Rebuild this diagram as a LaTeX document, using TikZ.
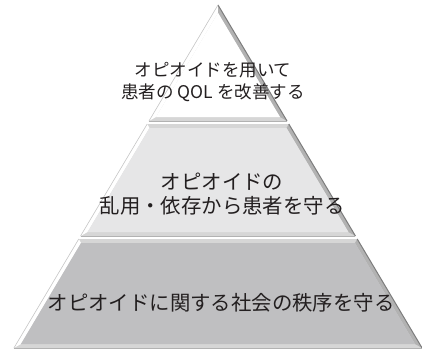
\documentclass[tikz,border=0pt]{standalone}
\usepackage{fontspec}
\newfontfamily\jp{Noto Sans CJK JP}
\definecolor{lowfill}{RGB}{191,191,193}
\definecolor{midfill}{RGB}{230,230,231}
\definecolor{topfill}{RGB}{255,255,255}
\definecolor{bevelgray}{RGB}{214,214,214}
\definecolor{rightbevel}{RGB}{178,178,178}
\definecolor{edgedark}{RGB}{125,125,125}
\definecolor{leftshade}{RGB}{200,200,200}
\definecolor{txt}{RGB}{35,31,32}
\newcommand{\pyrlayer}[4]{%
  \pgfmathsetmacro\oa{218-0.595*(#1-5)}%
  \pgfmathsetmacro\ob{218+0.595*(#1-5)}%
  \pgfmathsetmacro\oc{218+0.595*(#2-5)}%
  \pgfmathsetmacro\od{218-0.595*(#2-5)}%
  \pgfmathsetmacro\iyb{#2-4}%
  \pgfmathsetmacro\ia{min(218-0.595*(#3-5)+4.65,218)}%
  \pgfmathsetmacro\ib{max(218+0.595*(#3-5)-4.65,218)}%
  \pgfmathsetmacro\ic{218+0.595*(#2-9)-4.65}%
  \pgfmathsetmacro\id{218-0.595*(#2-9)+4.65}%
  \fill[bevelgray] (\oa,#1) -- (\ob,#1) -- (\oc,#2) -- (\od,#2) -- cycle;
  \fill[white] (\oa,#1) -- (\od,#2) -- (\id,\iyb) -- (\ia,#3) -- cycle;
  \fill[rightbevel] (\ob,#1) -- (\oc,#2) -- (\ic,\iyb) -- (\ib,#3) -- cycle;
  \fill[#4] (\ia,#3) -- (\ib,#3) -- (\ic,\iyb) -- (\id,\iyb) -- cycle;
  \draw[edgedark, line width=1pt] (\ob,#1) -- (\oc,#2);
  \draw[leftshade, line width=0.6pt] (\oa,#1) -- (\od,#2);
  \draw[rightbevel, line width=0.8pt] (\od,#2) -- (\oc,#2);
}
\tikzset{
  label1/.style={text=txt, align=center, inner sep=0pt},
}
\begin{document}
\begin{tikzpicture}[x=1pt,y=-1pt]
\useasboundingbox (0,0) rectangle (422,350);
\fill[white] (0,0) rectangle (422,350);
\pyrlayer{5}{121}{12.8}{topfill}
\pyrlayer{124}{236}{128}{midfill}
\pyrlayer{239}{348}{243}{lowfill}
\node[label1, font=\jp\fontsize{17.5}{22}\selectfont] (toptext) at (213,82) {オピオイドを用いて\\患者の QOL を改善する};
\node[label1, font=\jp\fontsize{20.4}{24}\selectfont] (midtext) at (222,194.5) {オピオイドの\\乱用・依存から患者を守る};
\node[label1, font=\jp\fontsize{20.4}{24}\selectfont] (lowtext) at (221,303) {オピオイドに関する社会の秩序を守る};
\end{tikzpicture}
\end{document}
